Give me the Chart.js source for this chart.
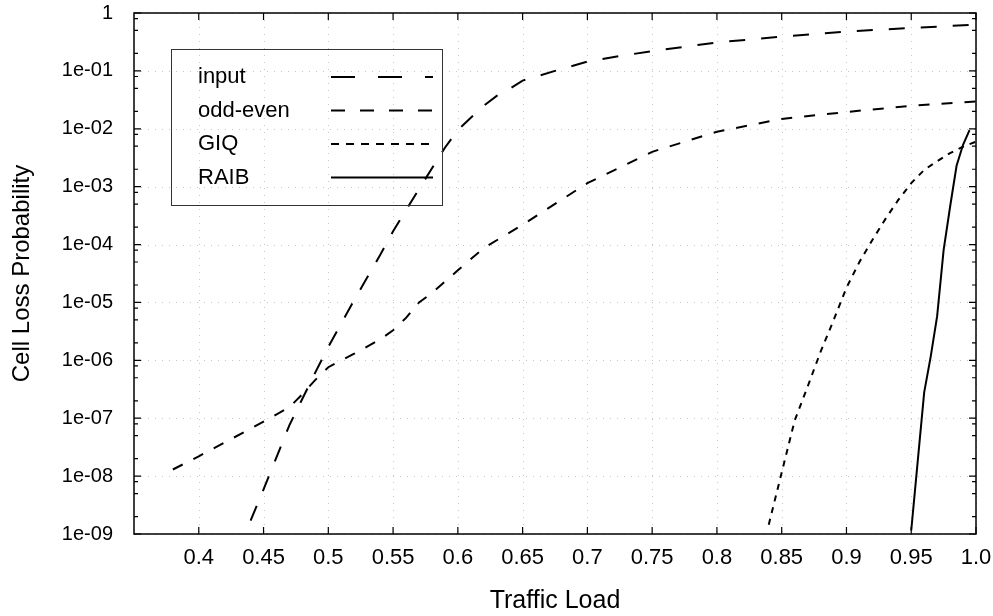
<!DOCTYPE html>
<html>
<head>
<meta charset="utf-8">
<script src="https://cdn.jsdelivr.net/npm/chart.js@4.4.1/dist/chart.umd.min.js"></script>
<style>
  html, body { margin: 0; padding: 0; background: #fff; }
  #wrap { width: 993px; height: 616px; }
</style>
</head>
<body>
<div id="wrap"><canvas id="lossChart" width="993" height="616"></canvas></div>
<script>
// values
const inputLoad = [0.44, 0.45, 0.47, 0.49, 0.5, 0.52, 0.54, 0.55, 0.57, 0.59, 0.6, 0.61, 0.62, 0.63, 0.64, 0.65, 0.675, 0.7, 0.725, 0.75, 0.8, 0.85, 0.9, 0.95, 1.0];
const inputLoss = [1.7e-9, 5.9e-9, 7.6e-8, 6.2e-7, 1.7e-6, 1.1e-5, 6.6e-5, 1.7e-4, 9.1e-4, 4.7e-3, 9.5e-3, 0.0155, 0.025, 0.037, 0.049, 0.068, 0.10, 0.145, 0.18, 0.22, 0.31, 0.39, 0.48, 0.55, 0.63];

const oddEvenLoad = [0.38, 0.4, 0.45, 0.47, 0.48, 0.49, 0.5, 0.52, 0.54, 0.55, 0.56, 0.57, 0.58, 0.6, 0.62, 0.65, 0.7, 0.75, 0.8, 0.85, 0.9, 0.95, 1.0];
const oddEvenLoss = [1.3e-8, 2.2e-8, 8.7e-8, 1.55e-7, 2.6e-7, 4.6e-7, 7.6e-7, 1.3e-6, 2.3e-6, 3.3e-6, 5.4e-6, 1.0e-5, 1.45e-5, 3.6e-5, 8.7e-5, 2.2e-4, 1.15e-3, 4.0e-3, 8.9e-3, 0.0148, 0.0195, 0.025, 0.0295];

const giqLoad = [0.84, 0.85, 0.86, 0.87, 0.88, 0.89, 0.9, 0.91, 0.92, 0.93, 0.94, 0.95, 0.96, 0.97, 0.98, 0.99, 1.0];
const giqLoss = [1.45e-9, 1.15e-8, 9.1e-8, 3.5e-7, 1.4e-6, 4.9e-6, 1.8e-5, 5.0e-5, 1.2e-4, 2.75e-4, 5.9e-4, 1.15e-3, 1.95e-3, 2.75e-3, 3.8e-3, 4.9e-3, 6.0e-3];

const raibLoad = [0.95, 0.955, 0.96, 0.965, 0.97, 0.975, 0.98, 0.985, 0.99, 0.995];
const raibLoss = [1.15e-9, 1.8e-8, 2.8e-7, 1.15e-6, 5.8e-6, 8e-5, 4.5e-4, 2.3e-3, 5.3e-3, 9.5e-3];

const seriesNames = ['input', 'odd-even', 'GIQ', 'RAIB'];

const xTickValues = [0.4, 0.45, 0.5, 0.55, 0.6, 0.65, 0.7, 0.75, 0.8, 0.85, 0.9, 0.95, 1.0];
const xTickLabels = ['0.4', '0.45', '0.5', '0.55', '0.6', '0.65', '0.7', '0.75', '0.8', '0.85', '0.9', '0.95', '1.0'];
const yTickValues = [1, 1e-1, 1e-2, 1e-3, 1e-4, 1e-5, 1e-6, 1e-7, 1e-8, 1e-9];
const yTickLabels = ['1', '1e-01', '1e-02', '1e-03', '1e-04', '1e-05', '1e-06', '1e-07', '1e-08', '1e-09'];
const yMinorFactors = [0.8, 0.5, 0.2];

const FONT = "'Liberation Sans', Arial, Helvetica, sans-serif";

function toPoints(xs, ys) {
    return xs.map((x, i) => ({ x: x, y: ys[i] }));
}

// gnuplot style frame, dotted grid, inward ticks and the key box
const gnuplotFrame = {
    id: 'gnuplotFrame',
    beforeDatasetsDraw(chart) {
        const { ctx, chartArea: a, scales: { x, y } } = chart;
        ctx.save();
        ctx.strokeStyle = '#c8c8c8';
        ctx.lineWidth = 1;
        ctx.setLineDash([1, 6]);
        xTickValues.forEach(v => {
            const px = Math.round(x.getPixelForValue(v)) + 0.5;
            ctx.beginPath(); ctx.moveTo(px, a.top); ctx.lineTo(px, a.bottom); ctx.stroke();
        });
        yTickValues.forEach(v => {
            const py = Math.round(y.getPixelForValue(v)) + 0.5;
            ctx.beginPath(); ctx.moveTo(a.left, py); ctx.lineTo(a.right, py); ctx.stroke();
        });
        ctx.restore();
    },
    afterDatasetsDraw(chart) {
        const { ctx, chartArea: a, scales: { x, y } } = chart;
        ctx.save();
        ctx.setLineDash([]);
        ctx.strokeStyle = '#000';
        ctx.lineWidth = 1.5;
        ctx.strokeRect(a.left, a.top, a.right - a.left, a.bottom - a.top);

        ctx.lineWidth = 1.2;
        ctx.beginPath();
        xTickValues.forEach(v => {
            const px = x.getPixelForValue(v);
            ctx.moveTo(px, a.bottom); ctx.lineTo(px, a.bottom - 7);
            ctx.moveTo(px, a.top); ctx.lineTo(px, a.top + 7);
        });
        yTickValues.forEach(v => {
            const py = y.getPixelForValue(v);
            ctx.moveTo(a.left, py); ctx.lineTo(a.left + 7, py);
            ctx.moveTo(a.right, py); ctx.lineTo(a.right - 7, py);
        });
        yTickValues.slice(0, -1).forEach(v => {
            yMinorFactors.forEach(f => {
                const py = y.getPixelForValue(v * f);
                ctx.moveTo(a.left, py); ctx.lineTo(a.left + 4, py);
                ctx.moveTo(a.right, py); ctx.lineTo(a.right - 4, py);
            });
        });
        ctx.stroke();

        // key
        const box = { left: 171, top: 49, right: 442, bottom: 205 };
        ctx.lineWidth = 1;
        ctx.strokeStyle = '#333';
        ctx.strokeRect(box.left + 0.5, box.top + 0.5, box.right - box.left, box.bottom - box.top);
        ctx.font = '22px ' + FONT;
        ctx.fillStyle = '#000';
        ctx.textBaseline = 'middle';
        ctx.textAlign = 'left';
        chart.data.datasets.forEach((ds, i) => {
            const rowY = 77 + i * 33.5;
            ctx.fillText(ds.label, 198, rowY);
            ctx.save();
            ctx.strokeStyle = '#000';
            ctx.lineWidth = 2;
            ctx.setLineDash(ds.keyDash);
            ctx.beginPath(); ctx.moveTo(331, rowY); ctx.lineTo(433, rowY); ctx.stroke();
            ctx.restore();
        });
        ctx.restore();
    }
};

const lineStyle = { borderColor: '#000', borderWidth: 2, pointRadius: 0, tension: 0, fill: false };

new Chart(document.getElementById('lossChart').getContext('2d'), {
    type: 'line',
    data: {
        datasets: [
            Object.assign({ label: seriesNames[0], data: toPoints(inputLoad, inputLoss), borderDash: [16, 16], keyDash: [24, 23] }, lineStyle),
            Object.assign({ label: seriesNames[1], data: toPoints(oddEvenLoad, oddEvenLoss), borderDash: [11, 12], keyDash: [14, 15] }, lineStyle),
            Object.assign({ label: seriesNames[2], data: toPoints(giqLoad, giqLoss), borderDash: [6, 6], keyDash: [8, 7] }, lineStyle),
            Object.assign({ label: seriesNames[3], data: toPoints(raibLoad, raibLoss), borderDash: [], keyDash: [] }, lineStyle)
        ]
    },
    options: {
        responsive: false,
        animation: false,
        layout: { padding: { left: 0, right: 17, top: 13, bottom: 0 } },
        plugins: { legend: { display: false }, tooltip: { enabled: false } },
        scales: {
            x: {
                type: 'linear',
                min: 0.35,
                max: 1.0,
                afterBuildTicks: s => { s.ticks = xTickValues.map(v => ({ value: v })); },
                afterFit: s => { s.height = 82; s.paddingLeft = 0; s.paddingRight = 0; },
                grid: { display: false, drawTicks: false },
                border: { display: false },
                ticks: {
                    color: '#000',
                    padding: 11,
                    maxRotation: 0,
                    autoSkip: false,
                    font: { family: FONT, size: 22 },
                    callback: (v, i) => xTickLabels[i]
                },
                title: {
                    display: true,
                    text: 'Traffic Load',
                    color: '#000',
                    font: { family: FONT, size: 25 },
                    padding: { top: 0, bottom: 0 }
                }
            },
            y: {
                type: 'logarithmic',
                min: 1e-9,
                max: 1,
                afterBuildTicks: s => { s.ticks = yTickValues.map(v => ({ value: v })); },
                afterFit: s => { s.width = 134; s.paddingTop = 0; s.paddingBottom = 0; },
                grid: { display: false, drawTicks: false },
                border: { display: false },
                ticks: {
                    color: '#000',
                    padding: 21,
                    autoSkip: false,
                    font: { family: FONT, size: 20 },
                    callback: (v, i) => yTickLabels[i]
                },
                title: {
                    display: true,
                    text: 'Cell Loss Probability',
                    color: '#000',
                    font: { family: FONT, size: 24 },
                    padding: { top: 8, bottom: 0 }
                }
            }
        }
    },
    plugins: [gnuplotFrame]
});
</script>
</body>
</html>
